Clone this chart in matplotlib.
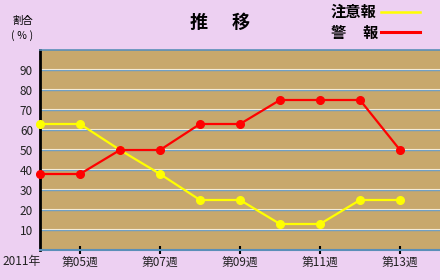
import matplotlib
matplotlib.use('Agg')
import matplotlib.pyplot as plt
from matplotlib.transforms import offset_copy
from matplotlib.lines import Line2D

plt.rcParams['font.family'] = ['Noto Sans CJK JP', 'DejaVu Sans']

weeks = [4, 5, 6, 7, 8, 9, 10, 11, 12, 13]
chuuihou = [63, 63, 50, 38, 25, 25, 13, 13, 25, 25]
keihou = [38, 38, 50, 50, 63, 63, 75, 75, 75, 50]
tick_weeks = [5, 7, 9, 11, 13]
tick_labels = ['第05週', '第07週', '第09週', '第11週', '第13週']
y_ticks = [10, 20, 30, 40, 50, 60, 70, 80, 90]

W, H = 440, 280
fig = plt.figure(figsize=(W / 100, H / 100), dpi=100, facecolor='#EDD0F2')
ax = fig.add_axes([40 / W, 30 / H, 400 / W, 200 / H])
ax.set_facecolor('#C8A86C')
ax.set_xlim(4, 14)
ax.set_ylim(0, 100)

ytr = ax.get_yaxis_transform()
ytr_off = offset_copy(ytr, fig=fig, x=0, y=0.9, units='points')
for y in y_ticks:
    ax.plot([0, 1], [y, y], color='#6A9CC4', lw=1.0, transform=ytr, zorder=1, solid_capstyle='butt')
    ax.plot([0, 1], [y, y], color='#F2EAD8', lw=0.8, transform=ytr_off, zorder=1, solid_capstyle='butt')

ax.plot(weeks, chuuihou, color='#FFFF00', lw=1.6, marker='o', ms=5.5, clip_on=False, zorder=3)
ax.plot(weeks, keihou, color='#FF0000', lw=1.6, marker='o', ms=5.5, clip_on=False, zorder=4)

ax.set_yticks(y_ticks)
ax.set_yticklabels([str(v) for v in y_ticks])
ax.tick_params(axis='y', length=0, pad=5, labelsize=8.5, labelcolor='#222222')
ax.set_xticks(tick_weeks)
ax.set_xticklabels(tick_labels)
ax.tick_params(axis='x', direction='inout', length=6, width=1.5, color='black',
               labelsize=8.5, pad=1, labelcolor='#222222')

ax.spines['left'].set_color('black')
ax.spines['left'].set_linewidth(2)
ax.spines['top'].set_color('#5A8FB8')
ax.spines['top'].set_linewidth(1.2)
ax.spines['bottom'].set_color('#5A8FB8')
ax.spines['bottom'].set_linewidth(1.5)
ax.spines['right'].set_visible(False)

# title
fig.text(199 / W, 1 - 22 / H, '推', fontsize=13, weight='bold', ha='center', va='center')
fig.text(241 / W, 1 - 22 / H, '移', fontsize=13, weight='bold', ha='center', va='center')

# legend
fig.text(331 / W, 1 - 12 / H, '注意報', fontsize=11, weight='bold', ha='left', va='center')
fig.text(331 / W, 1 - 33 / H, '警', fontsize=11, weight='bold', ha='left', va='center')
fig.text(362 / W, 1 - 33 / H, '報', fontsize=11, weight='bold', ha='left', va='center')
fig.add_artist(Line2D([381 / W, 420 / W], [1 - 12 / H, 1 - 12 / H], color='#FFFF00', lw=1.8,
                      transform=fig.transFigure))
fig.add_artist(Line2D([381 / W, 420 / W], [1 - 32 / H, 1 - 32 / H], color='#FF0000', lw=2.2,
                      transform=fig.transFigure))

# axis captions
fig.text(12 / W, 1 - 21 / H, '割合', fontsize=7.5, ha='left', va='center')
fig.text(11 / W, 1 - 36 / H, '( ％ )', fontsize=7.5, ha='left', va='center')
fig.text(2 / W, 1 - 261 / H, '2011年', fontsize=8.5, ha='left', va='center', color='#222222')

fig.savefig('out.png', dpi=100, facecolor=fig.get_facecolor())
